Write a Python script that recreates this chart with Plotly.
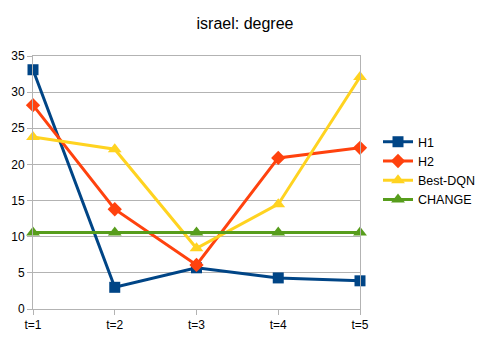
import plotly.graph_objects as go

# categories and series
steps = [1, 2, 3, 4, 5]
step_labels = ["t=1", "t=2", "t=3", "t=4", "t=5"]
h1 = [33.1, 3.0, 5.7, 4.3, 3.9]
h2 = [28.2, 13.8, 6.1, 20.9, 22.3]
best_dqn = [23.8, 22.1, 8.4, 14.5, 32.1]
change = [10.6, 10.6, 10.6, 10.6, 10.6]

series = [
    ("H1", h1, "#004586", "square", 11),
    ("H2", h2, "#ff420e", "diamond", 11),
    ("Best-DQN", best_dqn, "#ffd320", "triangle-up", 12),
    ("CHANGE", change, "#579d1c", "triangle-up", 12),
]

fig = go.Figure()
for name, values, color, symbol, size in series:
    fig.add_trace(
        go.Scatter(
            x=steps,
            y=values,
            mode="lines+markers",
            name=name,
            line=dict(color=color, width=3),
            marker=dict(symbol=symbol, size=size, color=color),
            cliponaxis=False,
        )
    )

# the page body adds an 8px margin, so the figure is 8px smaller on each side
fig.update_layout(
    width=481,
    height=332,
    margin=dict(l=25, r=129, t=48, b=31),
    paper_bgcolor="white",
    plot_bgcolor="white",
    font=dict(family="Liberation Sans, Arial, sans-serif", size=12, color="black"),
    title=dict(text="israel: degree", x=(245 - 8) / 481, xanchor="center",
               y=1 - 15 / 332, yref="container", yanchor="middle",
               font=dict(size=16)),
    xaxis=dict(
        range=[1, 5],
        tickvals=steps,
        ticktext=step_labels,
        showgrid=False,
        showline=True,
        linecolor="#b3b3b3",
        mirror=True,
        ticks="outside",
        ticklen=5,
        tickcolor="#b3b3b3",
        zeroline=False,
        automargin=False,
    ),
    yaxis=dict(
        range=[0, 35],
        dtick=5,
        showgrid=True,
        gridcolor="#b3b3b3",
        showline=True,
        linecolor="#b3b3b3",
        mirror=True,
        ticks="outside",
        ticklen=5,
        tickcolor="#b3b3b3",
        zeroline=False,
        automargin=False,
    ),
    legend=dict(
        xref="container",
        x=370 / 481,
        y=0.547,
        xanchor="left",
        yanchor="middle",
        itemwidth=30,
        tracegroupgap=0,
        font=dict(size=12.5),
    ),
)

fig.write_html("out.html")
